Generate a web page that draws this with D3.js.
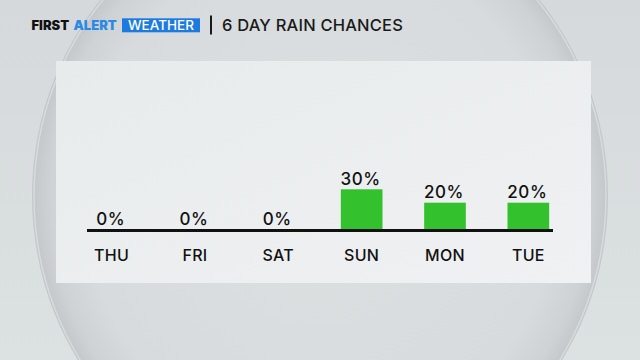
<!DOCTYPE html>
<html>
<head>
<meta charset="utf-8">
<script src="https://cdn.jsdelivr.net/npm/d3@7"></script>
<style>
  html, body { margin: 0; padding: 0; background: #dadfe0; }
  svg { display: block; }
</style>
</head>
<body>
<svg id="chart" width="640" height="360"></svg>
<script>
// ---- data ----
const days = ["THU", "FRI", "SAT", "SUN", "MON", "TUE"];
const chances = [0, 0, 0, 30, 20, 20];
const brandWords = ["FIRST", "ALERT", "WEATHER"];
const titleText = "6 DAY RAIN CHANCES";

const FONT = "Inter, 'Open Sans', sans-serif";
const svg = d3.select("#chart");
const W = 640, H = 360;
const defs = svg.append("defs");

// background gradients
const bgGrad = defs.append("linearGradient").attr("id", "bg").attr("x1", 0).attr("y1", 0).attr("x2", 0).attr("y2", 1);
bgGrad.append("stop").attr("offset", "0%").attr("stop-color", "#d5d9db");
bgGrad.append("stop").attr("offset", "100%").attr("stop-color", "#dce1e2");

const lens = defs.append("radialGradient").attr("id", "lens")
  .attr("cx", "50%").attr("cy", "50%").attr("r", "50%");
lens.append("stop").attr("offset", "0%").attr("stop-color", "#dce0e1");
lens.append("stop").attr("offset", "82%").attr("stop-color", "#d7dbdd");
lens.append("stop").attr("offset", "94%").attr("stop-color", "#cfd2d4");
lens.append("stop").attr("offset", "100%").attr("stop-color", "#c4c7c9");

const panelGrad = defs.append("linearGradient").attr("id", "panel").attr("x1", 0).attr("y1", 0).attr("x2", 1).attr("y2", 1);
panelGrad.append("stop").attr("offset", "0%").attr("stop-color", "#e8ebec");
panelGrad.append("stop").attr("offset", "100%").attr("stop-color", "#eff1f2");

svg.append("rect").attr("width", W).attr("height", H).attr("fill", "url(#bg)");
svg.append("ellipse").attr("cx", 320).attr("cy", 196).attr("rx", 288).attr("ry", 303)
  .attr("fill", "url(#lens)");
svg.append("ellipse").attr("cx", 320).attr("cy", 196).attr("rx", 286).attr("ry", 301)
  .attr("fill", "none").attr("stroke", "#e4e8e9").attr("stroke-width", 1.5).attr("opacity", 0.6);

// ---- header ----
const head = svg.append("g").attr("font-family", FONT);
head.append("text").attr("x", 31.5).attr("y", 30.3)
  .attr("font-size", 13).attr("font-weight", 900)
  .attr("fill", "#111").text(brandWords[0]);
head.append("text").attr("x", 73.5).attr("y", 30.3)
  .attr("font-size", 13).attr("font-weight", 900)
  .attr("fill", "#2a8ae6").text(brandWords[1]);
head.append("rect").attr("x", 122).attr("y", 18.3).attr("width", 78).attr("height", 14).attr("fill", "#1d7be0");
head.append("text").attr("x", 161).attr("y", 30.3).attr("text-anchor", "middle")
  .attr("font-size", 13.5).attr("font-weight", 500).attr("fill", "#fff").text(brandWords[2]);
head.append("rect").attr("x", 210).attr("y", 15.5).attr("width", 2).attr("height", 19).attr("fill", "#1a1a1a");
head.append("text").attr("x", 222).attr("y", 31)
  .attr("font-size", 16.5).attr("font-weight", 500).attr("fill", "#1a1a1a")
  .attr("letter-spacing", 0.2).text(titleText);

// ---- panel ----
svg.append("rect").attr("x", 56).attr("y", 61).attr("width", 535).attr("height", 222)
  .attr("fill", "url(#panel)");

// ---- chart ----
const x = d3.scaleBand().domain(days).range([70, 570]).paddingInner(0.5).paddingOuter(0.25);
const y = d3.scaleLinear().domain([0, 100]).range([229.5, 95.5]);

const g = svg.append("g").attr("font-family", FONT);

g.selectAll("rect.bar").data(days).join("rect").attr("class", "bar")
  .attr("x", d => x(d))
  .attr("width", x.bandwidth())
  .attr("y", (d, i) => y(chances[i]))
  .attr("height", (d, i) => y(0) - y(chances[i]))
  .attr("fill", "#33c22e");

g.selectAll("text.val").data(days).join("text").attr("class", "val")
  .attr("x", d => x(d) + x.bandwidth() / 2 - 1)
  .attr("y", (d, i) => y(chances[i]) - 4.5)
  .attr("text-anchor", "middle")
  .attr("font-size", 17).attr("font-weight", 500).attr("letter-spacing", 0.6)
  .attr("fill", "#111")
  .text((d, i) => chances[i] + "%");

// baseline (x axis)
g.append("line").attr("x1", 87).attr("x2", 553).attr("y1", 230.5).attr("y2", 230.5)
  .attr("stroke", "#111").attr("stroke-width", 3);

const axis = d3.axisBottom(x).tickSize(0).tickPadding(0);
const ax = g.append("g").attr("transform", "translate(0,261)").call(axis);
ax.select(".domain").remove();
ax.selectAll("text")
  .attr("font-family", FONT)
  .attr("font-size", 16).attr("font-weight", 500).attr("letter-spacing", 0.3)
  .attr("fill", "#111").attr("dy", 0).attr("y", 0);
</script>
</body>
</html>
